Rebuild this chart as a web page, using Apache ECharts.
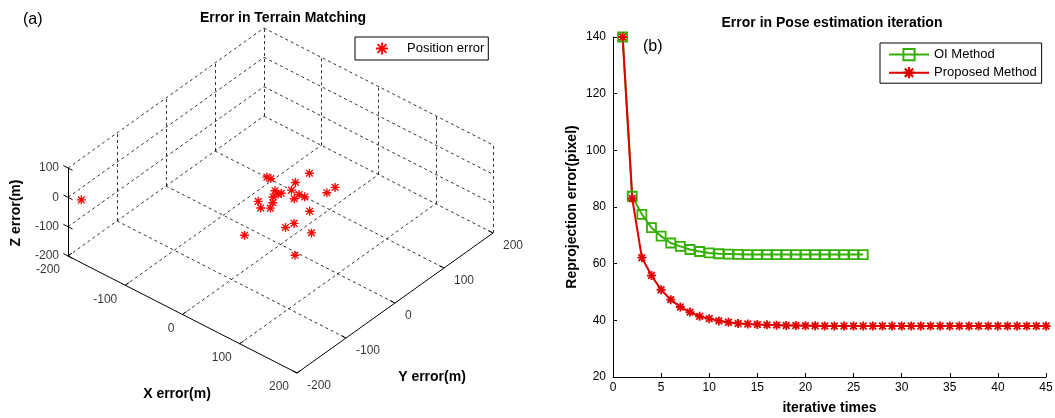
<!DOCTYPE html>
<html>
<head>
<meta charset="utf-8">
<title>Error in Terrain Matching / Pose estimation</title>
<script src="https://cdn.jsdelivr.net/npm/echarts@6/dist/echarts.min.js"></script>
<style>
    html, body { margin: 0; padding: 0; background: #fff; }
    #main { width: 1055px; height: 418px; }
</style>
</head>
<body>
<div id="main"></div>
<script>
// (a) position error of terrain matching, metres
var errX = [-22, -16, 24, 2, 9, -7, 1, 0, 23, 32, 24, 57, 62, -9, 3, 13, 8, 45, 34, 31, 61, -8, 51, 3, -187];
var errY = [-2, -1, 31, 28, 12, -3, -6, -15, 11, 12, 0, 28, 39, -35, -44, -36, -25, 7, -12, -26, -8, -64, -30, -2, -188];
var errZ = [10, 10, 30, -20, -20, -20, -20, -20, -20, -20, -20, 0, 10, -20, -20, -20, -20, -50, -80, -80, -90, -100, -150, -20, -10];
var xyTicks = [-200, -100, 0, 100, 200];
var zTicks = [-200, -100, 0, 100];

// (b) reprojection error per iteration, pixel
var iterations = [1, 2, 3, 4, 5, 6, 7, 8, 9, 10, 11, 12, 13, 14, 15, 16, 17, 18, 19, 20, 21, 22, 23,
    24, 25, 26, 27, 28, 29, 30, 31, 32, 33, 34, 35, 36, 37, 38, 39, 40, 41, 42, 43, 44, 45];
var oiError = [140, 83.8, 77.4, 72.7, 69.7, 67.3, 66.1, 65.0, 64.3, 63.8, 63.5, 63.4, 63.3,
    63.2, 63.2, 63.2, 63.2, 63.2, 63.2, 63.2, 63.2, 63.2, 63.2, 63.2, 63.2, 63.2];
var proposedError = [140, 83, 62.1, 55.8, 50.8, 47.3, 44.7, 42.9, 41.4, 40.6, 39.8, 39.3, 38.9,
    38.7, 38.5, 38.4, 38.3, 38.2, 38.2, 38.1, 38.1, 38.0, 38.0, 38.0, 38.0, 38.0, 38.0, 38.0,
    38.0, 38.0, 38.0, 38.0, 38.0, 38.0, 38.0, 38.0, 38.0, 38.0, 38.0, 38.0, 38.0, 38.0, 38.0, 38.0, 38.0];

var FONT = 'Liberation Sans, Arial, sans-serif';
// matlab style '*' markers
var STAR = 'path://M8.5,0h3v20h-3z M0,8.5h20v3h-20z M1.5,3.6L3.6,1.5L18.5,16.4L16.4,18.5z M16.4,1.5L18.5,3.6L3.6,18.5L1.5,16.4z';
var STAR_BOLD = 'path://M8,0h4v20h-4z M0,8h20v4h-20z M1.2,4L4,1.2L18.8,16L16,18.8z M16,1.2L18.8,4L4,18.8L1.2,16z';

// 3d box -> panel pixels (left corner is x=-200, y=-200, z=-200)
var O = [68, 256];
var EX = [229, 117], EY = [196, -140], EZ = [0, -88];
function proj(x, y, z) {
    var a = (x + 200) / 400, b = (y + 200) / 400, c = (z + 200) / 300;
    return [O[0] + a * EX[0] + b * EY[0] + c * EZ[0],
            O[1] + a * EX[1] + b * EY[1] + c * EZ[1]];
}

var gridLines = [], axisLines = [];
function seg(list, p, q) {
    list.push({coords: [proj(p[0], p[1], p[2]), proj(q[0], q[1], q[2])]});
}
// back walls and floor
xyTicks.slice(1).forEach(function (v) {
    seg(gridLines, [-200, v, -200], [-200, v, 100]);
    seg(gridLines, [v, 200, -200], [v, 200, 100]);
});
zTicks.forEach(function (z) {
    seg(gridLines, [-200, -200, z], [-200, 200, z]);
    seg(gridLines, [-200, 200, z], [200, 200, z]);
});
[-100, 0, 100].forEach(function (v) {
    seg(gridLines, [v, -200, -200], [v, 200, -200]);
    seg(gridLines, [-200, v, -200], [200, v, -200]);
});
// axes and ticks
seg(axisLines, [-200, -200, -200], [200, -200, -200]);
seg(axisLines, [200, -200, -200], [200, 200, -200]);
seg(axisLines, [-200, -200, -200], [-200, -200, 100]);
xyTicks.forEach(function (v) {
    seg(axisLines, [v, -200, -200], [v, -192, -200]);
    seg(axisLines, [200, v, -200], [192, v, -200]);
});
zTicks.forEach(function (z) {
    seg(axisLines, [-208, -200, z], [-192, -200, z]);
});

var xLabels = xyTicks.map(function (v) { return {name: String(v), value: proj(v, -200, -200)}; });
var yLabels = xyTicks.map(function (v) { return {name: String(v), value: proj(200, v, -200)}; });
var zLabels = zTicks.map(function (v) { return {name: String(v), value: proj(-200, -200, v)}; });

var points = [];
for (var i = 0; i < errX.length; i++) {
    points.push(proj(errX[i], errY[i], errZ[i]));
}

function labelSeries(data, align, offset) {
    return {
        type: 'scatter', xAxisIndex: 0, yAxisIndex: 0,
        symbolSize: 0, silent: true, clip: false,
        data: data,
        label: {
            show: true, position: 'inside', formatter: '{b}',
            align: align, verticalAlign: 'middle', offset: offset,
            color: '#000', fontSize: 12, fontFamily: FONT
        }
    };
}

var myChart = echarts.init(document.getElementById('main'));
var option = {
    backgroundColor: '#fff',
    animation: false,
    textStyle: {fontFamily: FONT},
    title: [
        {text: 'Error in Terrain Matching', left: 278, top: 6, textAlign: 'center',
            textStyle: {fontSize: 14, fontWeight: 'bold', color: '#000', fontFamily: FONT}},
        {text: 'Error in Pose estimation iteration', left: 827, top: 11, textAlign: 'center',
            textStyle: {fontSize: 14, fontWeight: 'bold', color: '#000', fontFamily: FONT}}
    ],
    graphic: [
        {type: 'text', x: 23, y: 12, style: {text: '(a)', fill: '#000', font: '16px ' + FONT}},
        {type: 'text', x: 643, y: 39, style: {text: '(b)', fill: '#000', font: '16px ' + FONT}},
        {type: 'text', x: 177, y: 394, style: {text: 'X error(m)', align: 'center', verticalAlign: 'middle',
            fill: '#000', font: 'bold 14px ' + FONT}},
        {type: 'text', x: 432, y: 377, style: {text: 'Y error(m)', align: 'center', verticalAlign: 'middle',
            fill: '#000', font: 'bold 14px ' + FONT}},
        {type: 'text', x: 16, y: 213, rotation: Math.PI / 2, style: {text: 'Z error(m)', align: 'center',
            verticalAlign: 'middle', fill: '#000', font: 'bold 14px ' + FONT}}
    ],
    legend: [
        {
            data: ['Position error'], left: 355, top: 37, orient: 'vertical',
            itemWidth: 40, itemHeight: 12, padding: [5, 4, 5, 21],
            borderColor: '#000', borderWidth: 1, borderRadius: 0,
            textStyle: {fontSize: 13, color: '#000', fontFamily: FONT}
        },
        {
            data: ['OI Method', 'Proposed Method'], left: 880, top: 43, orient: 'vertical',
            itemWidth: 40, itemHeight: 14, itemGap: 5, padding: [5, 5, 4, 8],
            borderColor: '#000', borderWidth: 1, borderRadius: 0,
            textStyle: {fontSize: 13, color: '#000', fontFamily: FONT}
        }
    ],
    grid: [
        {left: 0, top: 0, width: 530, height: 418, outerBoundsMode: 'none'},
        {left: 613, top: 37, width: 433, height: 340, outerBoundsMode: 'none'}
    ],
    xAxis: [
        {gridIndex: 0, type: 'value', min: 0, max: 530, show: false},
        {
            gridIndex: 1, type: 'value', min: 0, max: 45, interval: 5,
            name: 'iterative times', nameLocation: 'middle', nameGap: 24,
            nameTextStyle: {fontSize: 14, fontWeight: 'bold', color: '#000', fontFamily: FONT},
            axisLine: {lineStyle: {color: '#000', width: 1}},
            axisTick: {inside: true, length: 4, lineStyle: {color: '#000'}},
            axisLabel: {color: '#000', fontSize: 12, margin: 5, fontFamily: FONT},
            splitLine: {show: false}
        }
    ],
    yAxis: [
        {gridIndex: 0, type: 'value', min: 0, max: 418, inverse: true, show: false},
        {
            gridIndex: 1, type: 'value', min: 20, max: 140, interval: 20,
            name: 'Reprojection error(pixel)', nameLocation: 'middle', nameGap: 34,
            nameTextStyle: {fontSize: 14, fontWeight: 'bold', color: '#000', fontFamily: FONT},
            axisLine: {show: true, lineStyle: {color: '#000', width: 1}},
            axisTick: {show: true, inside: true, length: 4, lineStyle: {color: '#000'}},
            axisLabel: {color: '#000', fontSize: 12, margin: 7, fontFamily: FONT},
            splitLine: {show: false}
        }
    ],
    series: [
        {
            type: 'lines', coordinateSystem: 'cartesian2d', xAxisIndex: 0, yAxisIndex: 0,
            silent: true, data: gridLines,
            lineStyle: {color: '#000', width: 0.8, type: [3, 3], opacity: 1}
        },
        {
            type: 'lines', coordinateSystem: 'cartesian2d', xAxisIndex: 0, yAxisIndex: 0,
            silent: true, data: axisLines,
            lineStyle: {color: '#000', width: 1, type: 'solid', opacity: 1}
        },
        labelSeries(xLabels, 'right', [-8, 14]),
        labelSeries(yLabels, 'left', [10, 13]),
        labelSeries(zLabels, 'right', [-9, 0]),
        {
            name: 'Position error', type: 'scatter', xAxisIndex: 0, yAxisIndex: 0,
            symbol: STAR, symbolSize: 9, clip: false,
            itemStyle: {color: '#ff0000', opacity: 1},
            data: points
        },
        {
            name: 'OI Method', type: 'line', xAxisIndex: 1, yAxisIndex: 1,
            symbol: 'rect', symbolSize: 9, showAllSymbol: true,
            lineStyle: {color: '#33b000', width: 2},
            itemStyle: {color: 'rgba(255,255,255,0)', borderColor: '#33b000', borderWidth: 1.8},
            data: oiError.map(function (v, k) { return [iterations[k], v]; })
        },
        {
            name: 'Proposed Method', type: 'line', xAxisIndex: 1, yAxisIndex: 1,
            symbol: STAR_BOLD, symbolSize: 9, showAllSymbol: true,
            lineStyle: {color: '#e00000', width: 2},
            itemStyle: {color: '#e00000'},
            data: proposedError.map(function (v, k) { return [iterations[k], v]; })
        }
    ]
};

if (option && typeof option === "object") {
    myChart.setOption(option, true);
}
</script>
</body>
</html>
